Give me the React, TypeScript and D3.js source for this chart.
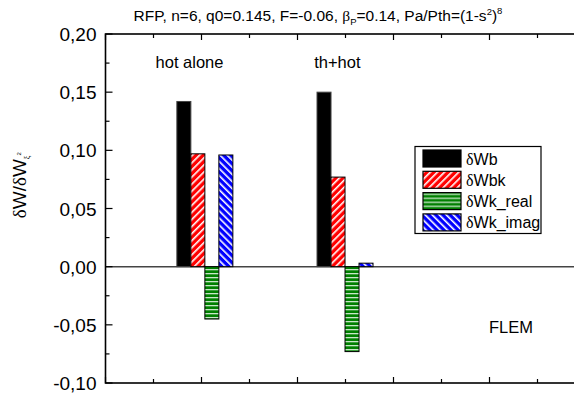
import * as d3 from "d3";
import React from "react";

// groups drawn along the x axis (position in axis units)
const groups = ["hot alone", "th+hot"];
const groupPos = [2.07, 4.99];
const labelPos = [1.75, 4.83];

const seriesNames = ["δWb", "δWbk", "δWk_real", "δWk_imag"];
const dWb = [0.142, 0.150];
const dWbk = [0.097, 0.077];
const dWkReal = [-0.045, -0.073];
const dWkImag = [0.096, 0.003];

const yTicks = [-0.1, -0.05, 0, 0.05, 0.1, 0.15, 0.2];

const W = 574;
const H = 394;
const left = 105.5;
const right = 585.5;
const top = 34;
const bottom = 383;
const barW = 14;

const font = "'Liberation Sans', Arial, sans-serif";
const serif = "'Liberation Serif', 'Times New Roman', serif";

const fills = ["#000", "url(#pRed)", "url(#pGreen)", "url(#pBlue)"];

const App: React.FC = () => {
  const x = d3.scaleLinear().domain([0, 10]).range([left, right]);
  const y = d3.scaleLinear().domain([-0.1, 0.2]).range([bottom, top]);

  const series = [dWb, dWbk, dWkReal, dWkImag];
  const fmt = (v: number) => d3.format(".2f")(v).replace(".", ",").replace("−", "-");

  const xTicks = d3.range(0, 11, 1);
  const yMinor = d3.range(-0.1, 0.2001, 0.025);

  return (
    <svg width={W} height={H} style={{ position: "absolute", left: 0, top: 0, background: "#fff" }}>
      <defs>
        <pattern id="pRed" patternUnits="userSpaceOnUse" width="5" height="5" patternTransform="rotate(45)">
          <rect width="5" height="5" fill="#ff0000" />
          <rect x="0" width="1.6" height="5" fill="#fff" />
        </pattern>
        <pattern id="pBlue" patternUnits="userSpaceOnUse" width="5" height="5" patternTransform="rotate(-45)">
          <rect width="5" height="5" fill="#0000ff" />
          <rect x="0" width="1.6" height="5" fill="#fff" />
        </pattern>
        <pattern id="pGreen" patternUnits="userSpaceOnUse" width="4" height="4">
          <rect width="4" height="4" fill="#008000" />
          <rect y="1" width="4" height="1.3" fill="#c8e6c8" />
        </pattern>
      </defs>

      {/* title */}
      <text x={318} y={21} fontFamily={font} fontSize={15.5} textAnchor="middle" fill="#000">
        RFP, n=6, q0=0.145, F=-0.06, <tspan fontFamily={serif}>β</tspan>
        <tspan fontSize={9.5} dy={4}>P</tspan>
        <tspan dy={-4}>=0.14, Pa/Pth=(1-s</tspan>
        <tspan fontSize={9.5} dy={-6}>2</tspan>
        <tspan dy={6}>)</tspan>
        <tspan fontSize={9.5} dy={-7}>8</tspan>
      </text>

      {/* zero line */}
      <line x1={left} x2={right} y1={y(0)} y2={y(0)} stroke="#444" strokeWidth={1.5} />

      {/* bars */}
      {series.map((vals, si) =>
        vals.map((v, gi) => {
          const x0 = x(groupPos[gi]) + (si - 2) * barW;
          const y0 = Math.min(y(v), y(0));
          const h = Math.abs(y(v) - y(0));
          return (
            <rect key={`${si}-${gi}`} x={x0} y={y0} width={barW} height={h}
              fill={fills[si]} stroke={si === 0 ? "#444" : "#000"} strokeWidth={1} />
          );
        })
      )}

      {/* frame */}
      <rect x={left} y={top} width={right - left} height={bottom - top} fill="none" stroke="#000" strokeWidth={1.6} />

      {/* x ticks top and bottom */}
      {xTicks.map(t => {
        const len = t % 2 === 0 ? 6 : 4;
        return (
          <g key={t}>
            <line x1={x(t)} x2={x(t)} y1={bottom} y2={bottom - len} stroke="#000" strokeWidth={1.2} />
            <line x1={x(t)} x2={x(t)} y1={top} y2={top + len} stroke="#000" strokeWidth={1.2} />
          </g>
        );
      })}

      {/* y ticks */}
      {yMinor.map((t, i) => (
        <line key={i} x1={left} x2={left + (i % 2 === 0 ? 7 : 4)} y1={y(t)} y2={y(t)} stroke="#000" strokeWidth={1.2} />
      ))}
      {yTicks.map(t => (
        <text key={t} x={left - 9} y={y(t) + 7} fontFamily={font} fontSize={19} textAnchor="end" fill="#000">
          {fmt(t)}
        </text>
      ))}

      {/* y label */}
      <text transform={`translate(26,${y(0.07)}) rotate(-90)`} fontFamily={font} fontSize={19} textAnchor="middle" fill="#000">
        <tspan fontFamily={serif}>δ</tspan>W/<tspan fontFamily={serif}>δ</tspan>W
        <tspan fontSize={8} dy={4} fontFamily={serif}>ξ</tspan>
        <tspan fontSize={6} dy={-9}>2</tspan>
      </text>

      {/* group labels */}
      {groups.map((g, i) => (
        <text key={g} x={x(labelPos[i])} y={68} fontFamily={font} fontSize={16.5} textAnchor="middle" fill="#000">
          {g}
        </text>
      ))}
      <text x={511} y={333} fontFamily={font} fontSize={16.5} textAnchor="middle" fill="#000">FLEM</text>

      {/* legend */}
      <g transform="translate(415,146.5)">
        <rect width={126} height={87} fill="#fff" stroke="#000" strokeWidth={1.2} />
        {seriesNames.map((n, i) => (
          <g key={n} transform={`translate(8,${3.5 + i * 21.3})`}>
            <rect width={38} height={17} fill={fills[i]} stroke="#000" strokeWidth={1.2} />
            <text x={43} y={14.5} fontFamily={font} fontSize={16} fill="#000">
              <tspan fontFamily={serif}>δ</tspan>{n.slice(1)}
            </text>
          </g>
        ))}
      </g>
    </svg>
  );
};

export default App;
